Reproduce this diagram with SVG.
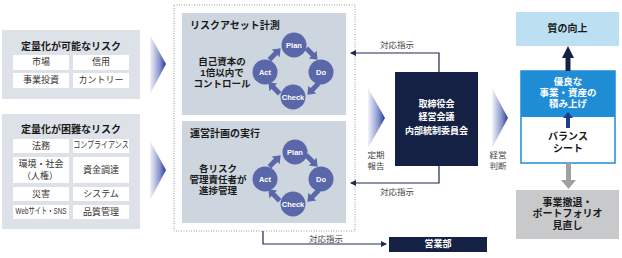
<svg xmlns="http://www.w3.org/2000/svg" width="622" height="258" viewBox="0 0 622 258">
<defs>
<linearGradient id="chev" x1="0" y1="0" x2="1" y2="0">
<stop offset="0" stop-color="#f3f4fa"/>
<stop offset="0.6" stop-color="#8a96cc"/>
<stop offset="1" stop-color="#22399a"/>
</linearGradient>
<marker id="ah" markerWidth="6" markerHeight="6" refX="5" refY="3" orient="auto" markerUnits="userSpaceOnUse">
<path d="M0,0 L6,3 L0,6 Z" fill="#1f2a4d"/>
</marker>
<path id="cyc" d="M-8,-2.5 H1 V-5.5 L8,0 L1,5.5 V2.5 H-8 Z"/>
</defs>
<style>
text{font-family:"Liberation Sans","Noto Sans CJK JP",sans-serif;text-anchor:middle;dominant-baseline:central}
.ttl{font-size:10px;font-weight:bold;fill:#1a1a1a}
.cell{fill:#ffffff}
.ct{font-size:9px;fill:#333333}
.pnl{fill:#dde2e9}
.inner{fill:#cdd6df}
.circ{fill:#5a67a8}
.ctx{font-size:7.5px;font-weight:bold;fill:#ffffff}
.arw{fill:#5a67a8}
.bt{font-size:9.5px;font-weight:bold;fill:#1a1a1a}
.navy{fill:#152144}
.wt{font-size:9px;font-weight:bold;fill:#ffffff}
.lab{font-size:8.5px;fill:#444444}
.conn{fill:none;stroke:#1f2a4d;stroke-width:1.2}
.rt{font-size:10px;font-weight:bold;fill:#1a1a1a}
.rw{font-size:9.5px;font-weight:bold;fill:#ffffff}
</style>

<g id="quantifiable">
<rect class="pnl" x="2" y="30" width="138" height="69"/>
<text class="ttl" x="71" y="46">定量化が可能なリスク</text>
<rect class="cell" x="13" y="55" width="56" height="15"/>
<rect class="cell" x="73" y="55" width="56" height="15"/>
<rect class="cell" x="13" y="73" width="56" height="15"/>
<rect class="cell" x="73" y="73" width="56" height="15"/>
<text class="ct" x="41" y="62">市場</text>
<text class="ct" x="101" y="62">信用</text>
<text class="ct" x="41" y="80">事業投資</text>
<text class="ct" x="101" y="80">カントリー</text>
</g>

<g id="hard-to-quantify">
<rect class="pnl" x="2" y="114" width="138" height="115"/>
<text class="ttl" x="71" y="129">定量化が困難なリスク</text>
<rect class="cell" x="13" y="139" width="56" height="14"/>
<rect class="cell" x="73" y="139" width="56" height="14"/>
<rect class="cell" x="13" y="157" width="56" height="26"/>
<rect class="cell" x="73" y="157" width="56" height="26"/>
<rect class="cell" x="13" y="187" width="56" height="14"/>
<rect class="cell" x="73" y="187" width="56" height="14"/>
<rect class="cell" x="13" y="205" width="56" height="14"/>
<rect class="cell" x="73" y="205" width="56" height="14"/>
<text class="ct" x="41" y="145.5">法務</text>
<text class="ct" x="0" y="0" font-size="8" transform="translate(101,145.5) scale(0.78,1)">コンプライアンス</text>
<text class="ct"><tspan x="41" y="163.5">環境・社会</tspan><tspan x="40" y="175.5">（人権）</tspan></text>
<text class="ct" x="101" y="169.5">資金調達</text>
<text class="ct" x="41" y="193.5">災害</text>
<text class="ct" x="101" y="193.5">システム</text>
<text class="ct" x="0" y="0" font-size="8" transform="translate(41,211.5) scale(0.7,1)">Webサイト・SNS</text>
<text class="ct" x="101" y="211.5">品質管理</text>
</g>

<g id="chevrons">
<polygon points="150,35 166,64 150,94" fill="url(#chev)"/>
<polygon points="150,141 166,170 150,200" fill="url(#chev)"/>
<polygon points="368,88 385,118 368,148" fill="url(#chev)"/>
<polygon points="492,88 508,118 492,148" fill="url(#chev)"/>
</g>

<g id="risk-management">
<rect x="174" y="5" width="181" height="226" fill="none" stroke="#9a9a9a" stroke-width="1" stroke-dasharray="1,1.5"/>
</g>

<g id="risk-asset">
<rect class="inner" x="182" y="13" width="164" height="102"/>
<text class="ttl" x="190" y="25.5" style="text-anchor:start">リスクアセット計測</text>
<text class="bt"><tspan x="222" y="61">自己資本の</tspan><tspan x="222" y="72">1倍以内で</tspan><tspan x="222" y="83">コントロール</tspan></text>
<circle class="circ" cx="294" cy="45" r="12.5"/>
<circle class="circ" cx="321" cy="72" r="12.5"/>
<circle class="circ" cx="293" cy="97" r="12.5"/>
<circle class="circ" cx="265" cy="72" r="12.5"/>
<text class="ctx" x="294" y="45">Plan</text>
<text class="ctx" x="321" y="72">Do</text>
<text class="ctx" x="293" y="97">Check</text>
<text class="ctx" x="265" y="72">Act</text>
<use href="#cyc" class="arw" transform="translate(312,54) rotate(45)"/>
<use href="#cyc" class="arw" transform="translate(313,89) rotate(135)"/>
<use href="#cyc" class="arw" transform="translate(274,88) rotate(225)"/>
<use href="#cyc" class="arw" transform="translate(275,54) rotate(-45)"/>
</g>

<g id="plan-execution">
<rect class="inner" x="182" y="121" width="164" height="102"/>
<text class="ttl" x="190" y="133.5" style="text-anchor:start">運営計画の実行</text>
<text class="bt"><tspan x="218" y="168">各リスク</tspan><tspan x="218" y="179">管理責任者が</tspan><tspan x="218" y="190">進捗管理</tspan></text>
<circle class="circ" cx="295" cy="152" r="12.5"/>
<circle class="circ" cx="321" cy="179" r="12.5"/>
<circle class="circ" cx="293" cy="204" r="12.5"/>
<circle class="circ" cx="265" cy="179" r="12.5"/>
<text class="ctx" x="295" y="152">Plan</text>
<text class="ctx" x="321" y="179">Do</text>
<text class="ctx" x="293" y="204">Check</text>
<text class="ctx" x="265" y="179">Act</text>
<use href="#cyc" class="arw" transform="translate(312,161) rotate(45)"/>
<use href="#cyc" class="arw" transform="translate(313,196) rotate(135)"/>
<use href="#cyc" class="arw" transform="translate(274,195) rotate(225)"/>
<use href="#cyc" class="arw" transform="translate(275,161) rotate(-45)"/>
</g>

<g id="board">
<rect class="navy" x="395" y="72" width="83" height="94"/>
<text class="wt"><tspan x="436.5" y="103.5">取締役会</tspan><tspan x="436.5" y="117">経営会議</tspan><tspan x="436.5" y="130.5">内部統制委員会</tspan></text>
</g>

<g id="sales">
<rect class="navy" x="389" y="237" width="98" height="15"/>
<text class="wt" x="438" y="244">営業部</text>
</g>

<g id="quality">
<rect x="516" y="12" width="103" height="34" fill="#bcdff2"/>
<text class="rt" x="567.5" y="28.5" font-size="10.5">質の向上</text>
</g>

<g id="balance-sheet">
<rect x="521" y="71" width="94" height="92" fill="#ffffff" stroke="#1f8dd6" stroke-width="1.5"/>
<rect x="521" y="71" width="94" height="46" fill="#1f8dd6"/>
<text class="rw"><tspan x="568" y="80.5">優良な</tspan><tspan x="568" y="91.5">事業・資産の</tspan><tspan x="568" y="102.5">積み上げ</tspan></text>
<path d="M566,128 V118 H563 L568,112 L573,118 H570 V128 Z" fill="#1d3c8c"/>
<text class="rt"><tspan x="568" y="136">バランス</tspan><tspan x="568" y="147.5">シート</tspan></text>
</g>

<g id="withdrawal">
<rect x="516" y="190" width="103" height="49" fill="#c8c9cb"/>
<text class="rt"><tspan x="567.5" y="201.5">事業撤退・</tspan><tspan x="567.5" y="213">ポートフォリオ</tspan><tspan x="567.5" y="224.5">見直し</tspan></text>
</g>

<g id="connectors">
<path class="conn" d="M439,72 V53 H351" marker-end="url(#ah)"/>
<path class="conn" d="M439,166 V183 H351" marker-end="url(#ah)"/>
<path class="conn" d="M263,231 V244 H386" marker-end="url(#ah)"/>
<path d="M565.5,71 V58 H562 L568,46 L574,58 H570.5 V71 Z" fill="#152144"/>
<path d="M566,163 V180 H561 L568.5,189 L576,180 H571 V163 Z" fill="#a0a0a0"/>
<text class="lab" x="397" y="44.5">対応指示</text>
<text class="lab" x="397" y="191.5">対応指示</text>
<text class="lab" x="326" y="238.5">対応指示</text>
<text class="lab"><tspan x="376" y="154.5">定期</tspan><tspan x="376" y="165.5">報告</tspan></text>
<text class="lab"><tspan x="498" y="154.5">経営</tspan><tspan x="498" y="165.5">判断</tspan></text>
</g>
</svg>
